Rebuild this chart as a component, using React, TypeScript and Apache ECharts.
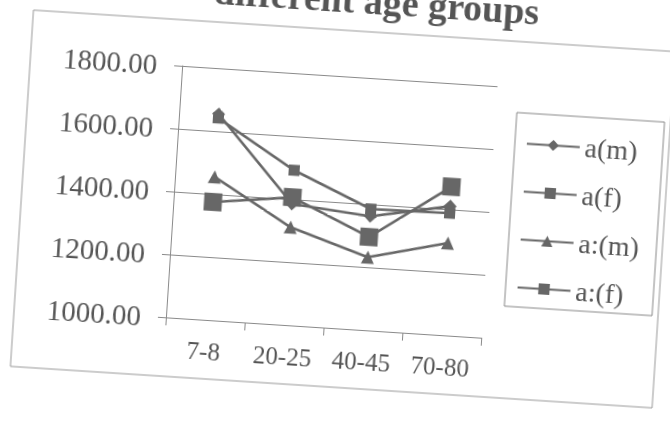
import React, { useEffect, useRef } from "react";
import * as echarts from "echarts";

const categories = ["7-8", "20-25", "40-45", "70-80"];
const seriesNames = ["a(m)", "a(f)", "a:(m)", "a:(f)"];
const am = [1655, 1385, 1362, 1410];
const af = [1642, 1492, 1385, 1388];
const acm = [1455, 1311, 1232, 1293];
const acf = [1375, 1406, 1296, 1472];
const yTicks = { min: 1000, max: 1800, interval: 200 };
const titleText = "different age groups";

const O = 40; // offset of the oversized canvas
const FONT = "'Liberation Serif', 'Times New Roman', serif";
const INK = "#676767";

export default function App() {
  const ref = useRef<HTMLDivElement>(null);
  useEffect(() => {
    if (!ref.current) return;
    const chart = echarts.init(ref.current, undefined, { renderer: "svg" });
    const mk = (name: string, data: number[], symbol: string, size: number) => ({
      name,
      type: "line",
      data,
      symbol,
      symbolSize: size,
      lineStyle: { color: INK, width: 2.6 },
      itemStyle: { color: INK },
    });
    chart.setOption({
      animation: false,
      backgroundColor: "#fff",
      textStyle: { fontFamily: FONT },
      grid: { left: 173 + O, top: 76 + O, width: 316, height: 252, containLabel: false },
      xAxis: {
        type: "category",
        data: categories,
        boundaryGap: true,
        axisLine: { lineStyle: { color: "#8a8a8a", width: 1 } },
        axisTick: { show: true, length: 8, lineStyle: { color: "#8a8a8a" } },
        axisLabel: { fontSize: 25, color: "#555", margin: 19, fontFamily: FONT },
        splitLine: { show: false },
      },
      yAxis: {
        type: "value",
        min: yTicks.min,
        max: yTicks.max,
        interval: yTicks.interval,
        axisLine: { show: true, lineStyle: { color: "#8a8a8a", width: 1 } },
        axisTick: { show: true, length: 8, lineStyle: { color: "#8a8a8a" } },
        axisLabel: {
          fontSize: 29,
          color: "#555",
          margin: 25,
          fontFamily: FONT,
          formatter: (v: number) => v.toFixed(2),
        },
        splitLine: { show: true, lineStyle: { color: "#8a8a8a", width: 1 } },
      },
      legend: {
        orient: "vertical",
        left: 521 + O,
        top: 117 + O,
        padding: 0,
        itemWidth: 53,
        itemHeight: 14,
        itemGap: 19,
        data: seriesNames,
        textStyle: { fontSize: 28, color: "#555", fontFamily: FONT, lineHeight: 29 },
      },
      graphic: [
        {
          type: "rect",
          shape: { x: 21 + O, y: 30 + O, width: 643, height: 357 },
          style: { fill: "none", stroke: "#999", lineWidth: 1 },
          silent: true,
          z: -1,
        },
        {
          type: "rect",
          shape: { x: 510 + O, y: 101 + O, width: 148, height: 194 },
          style: { fill: "none", stroke: "#888", lineWidth: 1 },
          silent: true,
        },
        {
          type: "text",
          x: 363 + O,
          y: -1.5 + O,
          style: {
            text: titleText,
            fontFamily: FONT,
            fontWeight: "bold",
            fontSize: 38,
            fill: "#555",
            textAlign: "center",
            textVerticalAlign: "middle",
          },
        },
      ],
      series: [
        mk(seriesNames[0], am, "diamond", 13),
        mk(seriesNames[1], af, "rect", 11),
        mk(seriesNames[2], acm, "triangle", 13),
        mk(seriesNames[3], acf, "rect", 18),
      ],
    });
    return () => chart.dispose();
  }, []);
  return (
    <div
      ref={ref}
      style={{
        position: "fixed",
        left: -O,
        top: -O,
        width: 670 + 2 * O,
        height: 426 + 2 * O,
        transform: "rotate(3.7deg)",
        transformOrigin: "50% 50%",
      }}
    />
  );
}
